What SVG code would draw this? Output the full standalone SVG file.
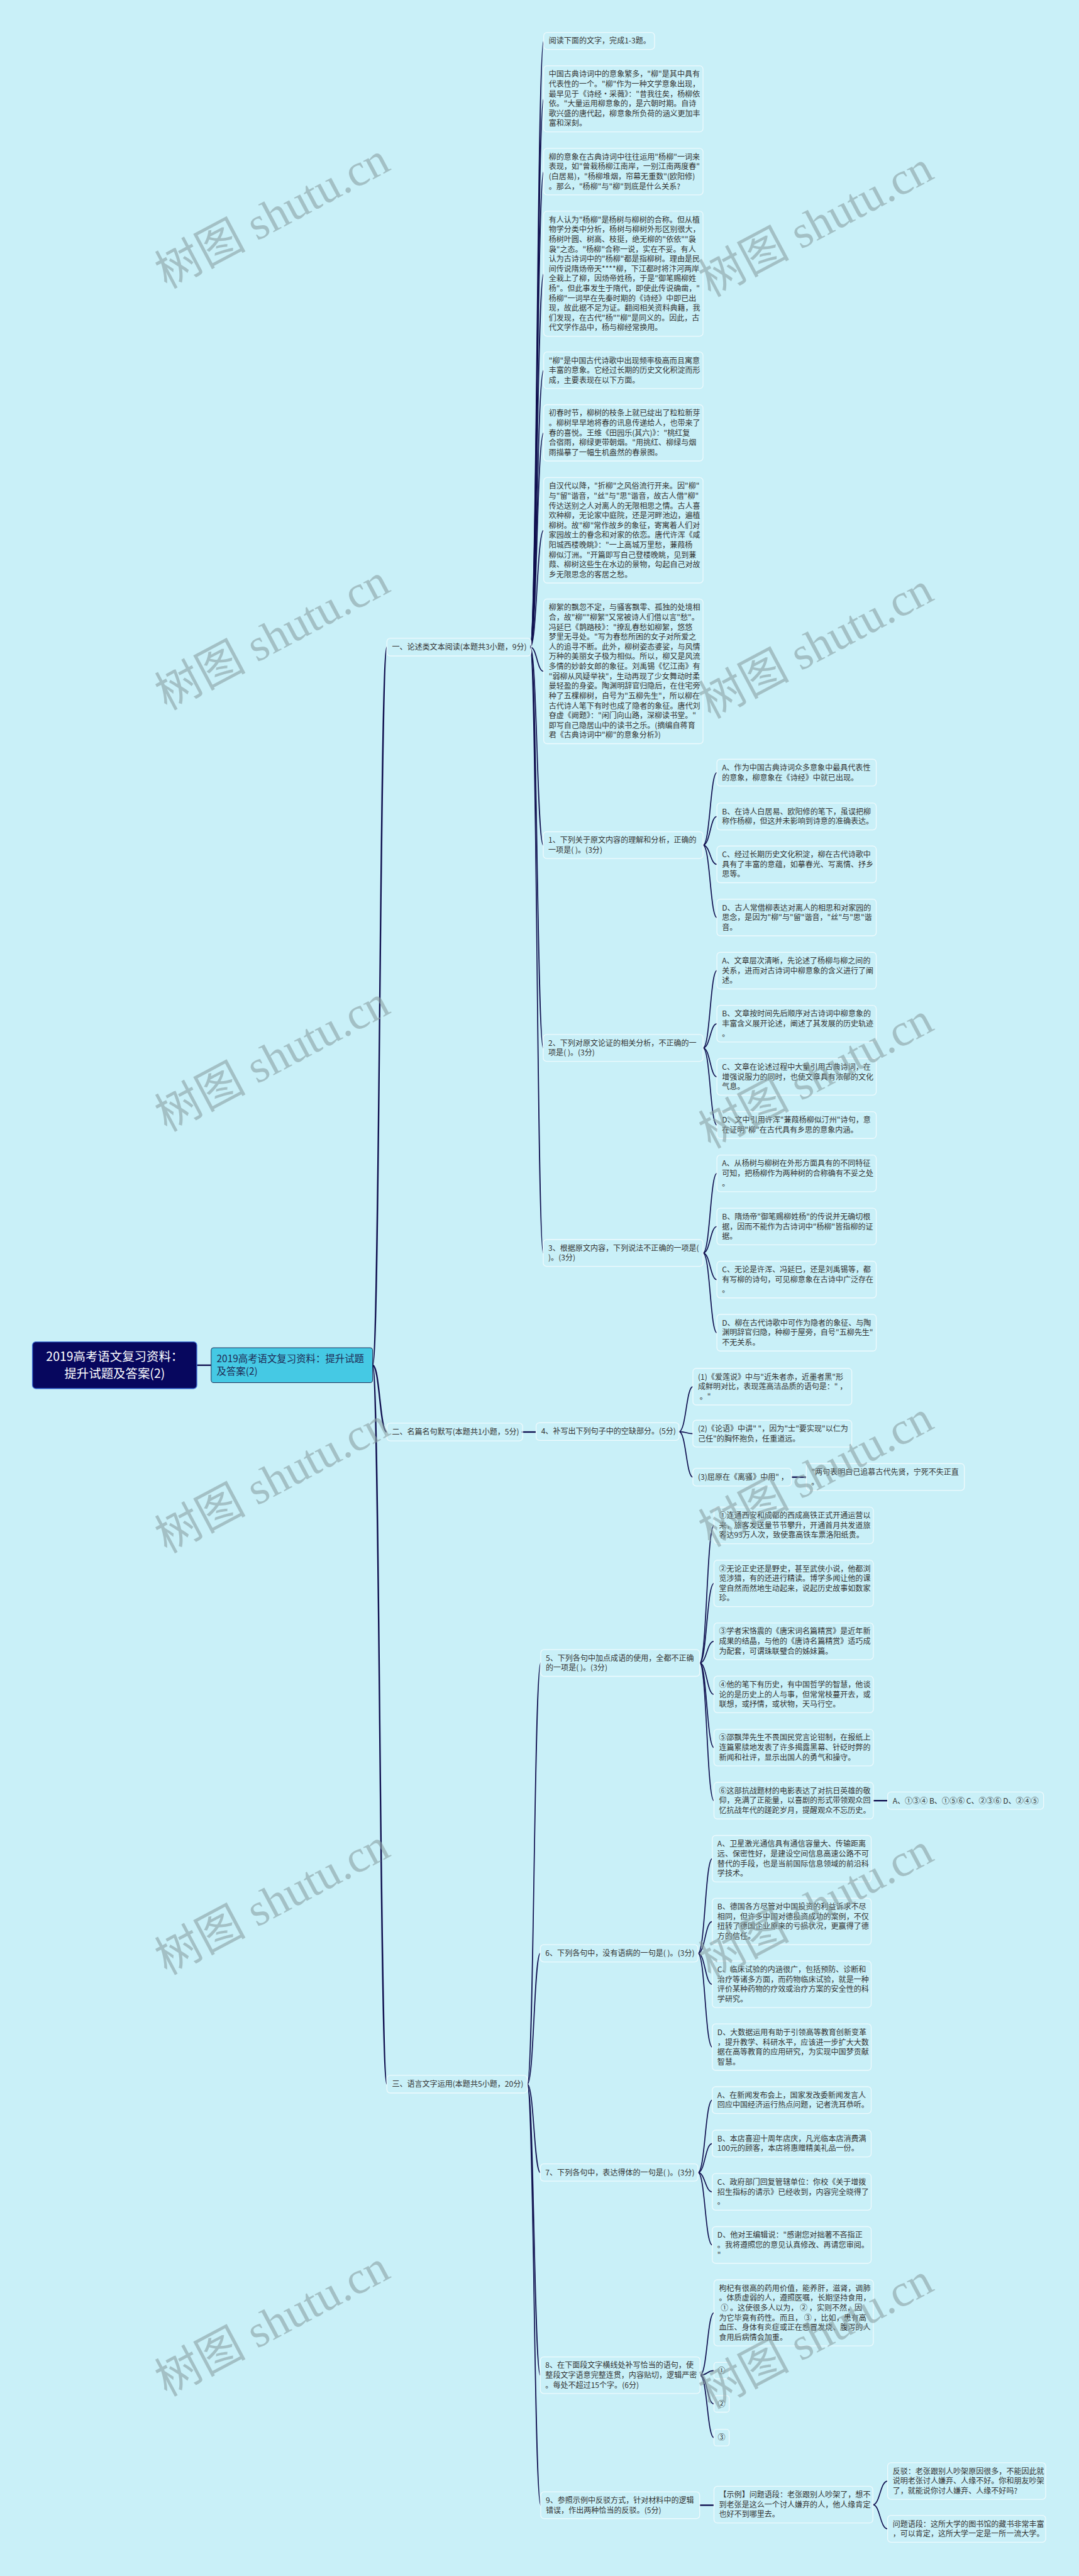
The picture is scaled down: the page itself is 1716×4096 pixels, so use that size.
<svg xmlns="http://www.w3.org/2000/svg" width="1716" height="4096" viewBox="0 0 1716 4096">
<style>
.b{fill:none;stroke:#eefafd;stroke-width:2}
.t{font-family:'Noto Sans CJK SC','Noto Sans',sans-serif;font-size:18px;fill:#333}
.c{fill:none;stroke:#0f0f4f;stroke-width:2.5}
.ct{fill:none;stroke:#0f0f4f;stroke-width:3.5}
.wm{font-family:'Liberation Serif','Noto Sans CJK SC',serif;font-size:108px;fill:#8aa0a4;fill-opacity:.6}
</style>
<rect width="1716" height="4096" fill="#c9f0f8"/>
<g transform="scale(0.6703)">
<g id="connectors">
<path class="ct" d="M467,3238.5H501"/>
<path class="ct" d="M884,3238.5C901,3238.5 901,1535 918,1535"/>
<path class="ct" d="M884,3238.5C901,3238.5 901,3397 918,3397"/>
<path class="ct" d="M884,3238.5C901,3238.5 901,4944 918,4944"/>
<path class="c" d="M1258,1535C1274,1535 1274,97.2 1290,97.2"/>
<path class="c" d="M1258,1535C1274,1535 1274,234.4 1290,234.4"/>
<path class="c" d="M1258,1535C1274,1535 1274,407.1 1290,407.1"/>
<path class="c" d="M1258,1535C1274,1535 1274,649.3 1290,649.3"/>
<path class="c" d="M1258,1535C1274,1535 1274,878.5 1290,878.5"/>
<path class="c" d="M1258,1535C1274,1535 1274,1026.8 1290,1026.8"/>
<path class="c" d="M1258,1535C1274,1535 1274,1258 1290,1258"/>
<path class="c" d="M1258,1535C1274,1535 1274,1592.6 1290,1592.6"/>
<path class="c" d="M1258,1535C1274,1535 1274,2004.8 1289,2004.8"/>
<path class="c" d="M1258,1535C1274,1535 1274,2485.8 1289,2485.8"/>
<path class="c" d="M1258,1535C1274,1535 1274,2972.3 1289,2972.3"/>
<path class="c" d="M1668,2004.8C1685,2004.8 1685,1832.8 1701,1832.8"/>
<path class="c" d="M1668,2004.8C1685,2004.8 1685,1936.8 1701,1936.8"/>
<path class="c" d="M1668,2004.8C1685,2004.8 1685,2050.5 1701,2050.5"/>
<path class="c" d="M1668,2004.8C1685,2004.8 1685,2176.5 1701,2176.5"/>
<path class="c" d="M1668,2485.8C1685,2485.8 1685,2302.5 1701,2302.5"/>
<path class="c" d="M1668,2485.8C1685,2485.8 1685,2428.5 1701,2428.5"/>
<path class="c" d="M1668,2485.8C1685,2485.8 1685,2554.5 1701,2554.5"/>
<path class="c" d="M1668,2485.8C1685,2485.8 1685,2668.8 1701,2668.8"/>
<path class="c" d="M1668,2972.3C1685,2972.3 1685,2783.5 1701,2783.5"/>
<path class="c" d="M1668,2972.3C1685,2972.3 1685,2909.5 1701,2909.5"/>
<path class="c" d="M1668,2972.3C1685,2972.3 1685,3035.5 1701,3035.5"/>
<path class="c" d="M1668,2972.3C1685,2972.3 1685,3161.5 1701,3161.5"/>
<path class="ct" d="M1238,3397H1272"/>
<path class="c" d="M1611,3396C1628,3396 1628,3289.5 1644,3289.5"/>
<path class="c" d="M1611,3396C1628,3396 1628,3400.8 1644,3400.8"/>
<path class="c" d="M1611,3396C1628,3396 1628,3504 1644,3504"/>
<path class="ct" d="M1878,3504H1913"/>
<path class="c" d="M1251,4944C1267,4944 1267,3944.8 1283,3944.8"/>
<path class="c" d="M1251,4944C1267,4944 1267,4633.5 1282,4633.5"/>
<path class="c" d="M1251,4944C1267,4944 1267,5153.5 1282,5153.5"/>
<path class="c" d="M1251,4944C1267,4944 1267,5634.5 1282,5634.5"/>
<path class="c" d="M1251,4944C1267,4944 1267,5942.8 1283,5942.8"/>
<path class="c" d="M1660,3944.8C1677,3944.8 1677,3618.5 1694,3618.5"/>
<path class="c" d="M1660,3944.8C1677,3944.8 1677,3756.1 1694,3756.1"/>
<path class="c" d="M1660,3944.8C1677,3944.8 1677,3893.5 1694,3893.5"/>
<path class="c" d="M1660,3944.8C1677,3944.8 1677,4019.5 1694,4019.5"/>
<path class="c" d="M1660,3944.8C1677,3944.8 1677,4145.5 1694,4145.5"/>
<path class="c" d="M1660,3944.8C1677,3944.8 1677,4271.5 1694,4271.5"/>
<path class="ct" d="M2072,4271.5H2106"/>
<path class="c" d="M1656,4633.5C1673,4633.5 1673,4409.1 1690,4409.1"/>
<path class="c" d="M1656,4633.5C1673,4633.5 1673,4558.1 1690,4558.1"/>
<path class="c" d="M1656,4633.5C1673,4633.5 1673,4707.1 1690,4707.1"/>
<path class="c" d="M1656,4633.5C1673,4633.5 1673,4856.1 1690,4856.1"/>
<path class="c" d="M1656,5153.5C1673,5153.5 1673,4981.8 1690,4981.8"/>
<path class="c" d="M1656,5153.5C1673,5153.5 1673,5084.8 1690,5084.8"/>
<path class="c" d="M1656,5153.5C1673,5153.5 1673,5199.5 1690,5199.5"/>
<path class="c" d="M1656,5153.5C1673,5153.5 1673,5325.5 1690,5325.5"/>
<path class="c" d="M1661,5634.5C1678,5634.5 1678,5486.4 1694,5486.4"/>
<path class="c" d="M1661,5634.5C1678,5634.5 1678,5623.5 1694,5623.5"/>
<path class="c" d="M1661,5634.5C1678,5634.5 1678,5702.5 1694,5702.5"/>
<path class="c" d="M1661,5634.5C1678,5634.5 1678,5782.5 1694,5782.5"/>
<path class="ct" d="M1660,5942.8H1694"/>
<path class="c" d="M2071,5941.5C2088,5941.5 2088,5885.5 2106,5885.5"/>
<path class="c" d="M2071,5941.5C2088,5941.5 2088,5998.8 2106,5998.8"/>
</g>

<g id="root"><rect x="77" y="3183" width="390" height="111" rx="8" fill="#07075e" stroke="#3d6fd6" stroke-width="2"/><text x="272" y="3228" text-anchor="middle" style="font-family:'Noto Sans CJK SC',sans-serif;font-size:29px;fill:#fff"><tspan x="272">2019高考语文复习资料：</tspan><tspan x="272" dy="40.7">提升试题及答案(2)</tspan></text></g>
<g id="n2"><rect x="501" y="3197" width="383" height="83" rx="6" fill="#45c9e4" stroke="#20305a" stroke-width="1.5"/><text x="514" y="3231.5" style="font-family:'Noto Sans CJK SC',sans-serif;font-size:23px;fill:#1f2b55"><tspan x="514">2019高考语文复习资料：提升试题</tspan><tspan x="514" dy="29.5">及答案(2)</tspan></text></g>

<g id="s1"><rect class="b" x="918" y="1514" width="342" height="42" rx="8"/><text class="t" x="930" y="1541.5">一、论述类文本阅读(本题共3小题，9分)</text></g>
<g id="s2"><rect class="b" x="918" y="3376" width="322" height="42" rx="8"/><text class="t" x="930" y="3403.5">二、名篇名句默写(本题共1小题，5分)</text></g>
<g id="s3"><rect class="b" x="918" y="4923" width="333" height="42" rx="8"/><text class="t" x="930" y="4950.5">三、语言文字运用(本题共5小题，20分)</text></g>

<g id="p1"><rect class="b" x="1290" y="77" width="263" height="40.3" rx="8"/><text class="t" x="1302" y="103.6">阅读下面的文字，完成1-3题。</text></g>
<g id="p2"><rect class="b" x="1290" y="156" width="378" height="156.8" rx="8"/><text class="t" x="1302" y="182.6"><tspan x="1302">中国古典诗词中的意象繁多，"柳"是其中具有</tspan><tspan x="1302" dy="23.3">代表性的一个。"柳"作为一种文学意象出现，</tspan><tspan x="1302" dy="23.3">最早见于《诗经·采薇》："昔我往矣，杨柳依</tspan><tspan x="1302" dy="23.3">依。"大量运用柳意象的，是六朝时期。自诗</tspan><tspan x="1302" dy="23.3">歌兴盛的唐代起，柳意象所负荷的涵义更加丰</tspan><tspan x="1302" dy="23.3">富和深刻。</tspan></text></g>
<g id="p3"><rect class="b" x="1290" y="352" width="378" height="110.2" rx="8"/><text class="t" x="1302" y="378.6"><tspan x="1302">柳的意象在古典诗词中往往运用"杨柳"一词来</tspan><tspan x="1302" dy="23.3">表现，如"曾栽杨柳江南岸，一别江南两度春"</tspan><tspan x="1302" dy="23.3">(白居易)，"杨柳堆烟，帘幕无重数"(欧阳修)</tspan><tspan x="1302" dy="23.3">。那么，"杨柳"与"柳"到底是什么关系?</tspan></text></g>
<g id="p4"><rect class="b" x="1290" y="501" width="378" height="296.6" rx="8"/><text class="t" x="1302" y="527.6"><tspan x="1302">有人认为"杨柳"是杨树与柳树的合称。但从植</tspan><tspan x="1302" dy="23.3">物学分类中分析，杨树与柳树外形区别很大，</tspan><tspan x="1302" dy="23.3">杨树叶圆、树高、枝挺，绝无柳的"依依""袅</tspan><tspan x="1302" dy="23.3">袅"之态。"杨柳"合称一说，实在不妥。有人</tspan><tspan x="1302" dy="23.3">认为古诗词中的"杨柳"都是指柳树。理由是民</tspan><tspan x="1302" dy="23.3">间传说隋炀帝天****柳，下江都时将汴河两岸</tspan><tspan x="1302" dy="23.3">全栽上了柳，因炀帝姓杨，于是"御笔赐柳姓</tspan><tspan x="1302" dy="23.3">杨"。但此事发生于隋代，即使此传说确凿，"</tspan><tspan x="1302" dy="23.3">杨柳"一词早在先秦时期的《诗经》中即已出</tspan><tspan x="1302" dy="23.3">现，故此据不足为证。翻阅相关资料典籍，我</tspan><tspan x="1302" dy="23.3">们发现，在古代"杨""柳"是同义的。因此，古</tspan><tspan x="1302" dy="23.3">代文学作品中，杨与柳经常换用。</tspan></text></g>
<g id="p5"><rect class="b" x="1290" y="835" width="378" height="86.9" rx="8"/><text class="t" x="1302" y="861.6"><tspan x="1302">"柳"是中国古代诗歌中出现频率极高而且寓意</tspan><tspan x="1302" dy="23.3">丰富的意象。它经过长期的历史文化积淀而形</tspan><tspan x="1302" dy="23.3">成，主要表现在以下方面。</tspan></text></g>
<g id="p6"><rect class="b" x="1290" y="960" width="378" height="133.5" rx="8"/><text class="t" x="1302" y="986.6"><tspan x="1302">初春时节，柳树的枝条上就已绽出了粒粒新芽</tspan><tspan x="1302" dy="23.3">。柳树早早地将春的讯息传递给人，也带来了</tspan><tspan x="1302" dy="23.3">春的喜悦。王维《田园乐(其六)》："桃红复</tspan><tspan x="1302" dy="23.3">合宿雨，柳绿更带朝烟。"用挑红、柳绿与烟</tspan><tspan x="1302" dy="23.3">雨描摹了一幅生机盎然的春景图。</tspan></text></g>
<g id="p7"><rect class="b" x="1290" y="1133" width="378" height="250" rx="8"/><text class="t" x="1302" y="1159.6"><tspan x="1302">自汉代以降，"折柳"之风俗流行开来。因"柳"</tspan><tspan x="1302" dy="23.3">与"留"谐音，"丝"与"思"谐音，故古人借"柳"</tspan><tspan x="1302" dy="23.3">传达送别之人对离人的无限相思之情。古人喜</tspan><tspan x="1302" dy="23.3">欢种柳，无论家中庭院，还是河畔池边，遍植</tspan><tspan x="1302" dy="23.3">柳树。故"柳"常作故乡的象征，寄寓着人们对</tspan><tspan x="1302" dy="23.3">家园故土的眷念和对家的依恋。唐代许浑《咸</tspan><tspan x="1302" dy="23.3">阳城西楼晚眺》："一上高城万里愁，蒹葭杨</tspan><tspan x="1302" dy="23.3">柳似汀洲。"开篇即写自己登楼晚眺，见到蒹</tspan><tspan x="1302" dy="23.3">葭、柳树这些生在水边的景物，勾起自己对故</tspan><tspan x="1302" dy="23.3">乡无限思念的客居之愁。</tspan></text></g>
<g id="p8"><rect class="b" x="1290" y="1421" width="378" height="343.2" rx="8"/><text class="t" x="1302" y="1447.6"><tspan x="1302">柳絮的飘忽不定，与骚客飘零、孤独的处境相</tspan><tspan x="1302" dy="23.3">合，故"柳""柳絮"又常被诗人们借以言"愁"。</tspan><tspan x="1302" dy="23.3">冯延巳《鹊踏枝》："撩乱春愁如柳絮，悠悠</tspan><tspan x="1302" dy="23.3">梦里无寻处。"写为春愁所困的女子对所爱之</tspan><tspan x="1302" dy="23.3">人的追寻不断。此外，柳树姿态婆娑，与风情</tspan><tspan x="1302" dy="23.3">万种的美丽女子极为相似。所以，柳又是风流</tspan><tspan x="1302" dy="23.3">多情的妙龄女郎的象征。刘禹锡《忆江南》有</tspan><tspan x="1302" dy="23.3">"弱柳从风疑举袂"，生动再现了少女舞动时柔</tspan><tspan x="1302" dy="23.3">曼轻盈的身姿。陶渊明辞官归隐后，在住宅旁</tspan><tspan x="1302" dy="23.3">种了五棵柳树，自号为"五柳先生"，所以柳在</tspan><tspan x="1302" dy="23.3">古代诗人笔下有时也成了隐者的象征。唐代刘</tspan><tspan x="1302" dy="23.3">昚虚《阙题》："闲门向山路，深柳读书堂。"</tspan><tspan x="1302" dy="23.3">即写自己隐居山中的读书之乐。(摘编自蒋育</tspan><tspan x="1302" dy="23.3">君《古典诗词中"柳"的意象分析》)</tspan></text></g>

<g id="q1"><rect class="b" x="1289" y="1973" width="379" height="63.6" rx="8"/><text class="t" x="1301" y="1999.6"><tspan x="1301">1、下列关于原文内容的理解和分析，正确的</tspan><tspan x="1301" dy="23.3">一项是( )。(3分)</tspan></text></g>
<g id="q1a"><rect class="b" x="1701" y="1801" width="378" height="63.6" rx="8"/><text class="t" x="1713" y="1827.6"><tspan x="1713">A、作为中国古典诗词众多意象中最具代表性</tspan><tspan x="1713" dy="23.3">的意象，柳意象在《诗经》中就已出现。</tspan></text></g>
<g id="q1b"><rect class="b" x="1701" y="1905" width="378" height="63.6" rx="8"/><text class="t" x="1713" y="1931.6"><tspan x="1713">B、在诗人白居易、欧阳修的笔下，虽误把柳</tspan><tspan x="1713" dy="23.3">称作杨柳，但这并未影响到诗意的准确表达。</tspan></text></g>
<g id="q1c"><rect class="b" x="1701" y="2007" width="378" height="86.9" rx="8"/><text class="t" x="1713" y="2033.6"><tspan x="1713">C、经过长期历史文化积淀，柳在古代诗歌中</tspan><tspan x="1713" dy="23.3">具有了丰富的意蕴，如摹春光、写离情、抒乡</tspan><tspan x="1713" dy="23.3">思等。</tspan></text></g>
<g id="q1d"><rect class="b" x="1701" y="2133" width="378" height="86.9" rx="8"/><text class="t" x="1713" y="2159.6"><tspan x="1713">D、古人常借柳表达对离人的相思和对家园的</tspan><tspan x="1713" dy="23.3">思念，是因为"柳"与"留"谐音，"丝"与"思"谐</tspan><tspan x="1713" dy="23.3">音。</tspan></text></g>

<g id="q2"><rect class="b" x="1289" y="2454" width="379" height="63.6" rx="8"/><text class="t" x="1301" y="2480.6"><tspan x="1301">2、下列对原文论证的相关分析，不正确的一</tspan><tspan x="1301" dy="23.3">项是( )。(3分)</tspan></text></g>
<g id="q2a"><rect class="b" x="1701" y="2259" width="378" height="86.9" rx="8"/><text class="t" x="1713" y="2285.6"><tspan x="1713">A、文章层次清晰，先论述了杨柳与柳之间的</tspan><tspan x="1713" dy="23.3">关系，进而对古诗词中柳意象的含义进行了阐</tspan><tspan x="1713" dy="23.3">述。</tspan></text></g>
<g id="q2b"><rect class="b" x="1701" y="2385" width="378" height="86.9" rx="8"/><text class="t" x="1713" y="2411.6"><tspan x="1713">B、文章按时间先后顺序对古诗词中柳意象的</tspan><tspan x="1713" dy="23.3">丰富含义展开论述，阐述了其发展的历史轨迹</tspan><tspan x="1713" dy="23.3">。</tspan></text></g>
<g id="q2c"><rect class="b" x="1701" y="2511" width="378" height="86.9" rx="8"/><text class="t" x="1713" y="2537.6"><tspan x="1713">C、文章在论述过程中大量引用古典诗词，在</tspan><tspan x="1713" dy="23.3">增强说服力的同时，也使文章具有浓郁的文化</tspan><tspan x="1713" dy="23.3">气息。</tspan></text></g>
<g id="q2d"><rect class="b" x="1701" y="2637" width="378" height="63.6" rx="8"/><text class="t" x="1713" y="2663.6"><tspan x="1713">D、文中引用许浑"蒹葭杨柳似汀州"诗句，意</tspan><tspan x="1713" dy="23.3">在证明"柳"在古代具有乡思的意象内涵。</tspan></text></g>

<g id="q3"><rect class="b" x="1289" y="2940.5" width="379" height="63.6" rx="8"/><text class="t" x="1301" y="2967.1"><tspan x="1301">3、根据原文内容，下列说法不正确的一项是(</tspan><tspan x="1301" dy="23.3">)。(3分)</tspan></text></g>
<g id="q3a"><rect class="b" x="1701" y="2740" width="378" height="86.9" rx="8"/><text class="t" x="1713" y="2766.6"><tspan x="1713">A、从杨树与柳树在外形方面具有的不同特征</tspan><tspan x="1713" dy="23.3">可知，把杨柳作为两种树的合称确有不妥之处</tspan><tspan x="1713" dy="23.3">。</tspan></text></g>
<g id="q3b"><rect class="b" x="1701" y="2866" width="378" height="86.9" rx="8"/><text class="t" x="1713" y="2892.6"><tspan x="1713">B、隋炀帝"御笔赐柳姓杨"的传说并无确切根</tspan><tspan x="1713" dy="23.3">据，因而不能作为古诗词中"杨柳"皆指柳的证</tspan><tspan x="1713" dy="23.3">据。</tspan></text></g>
<g id="q3c"><rect class="b" x="1701" y="2992" width="378" height="86.9" rx="8"/><text class="t" x="1713" y="3018.6"><tspan x="1713">C、无论是许浑、冯延巳，还是刘禹锡等，都</tspan><tspan x="1713" dy="23.3">有写柳的诗句，可见柳意象在古诗中广泛存在</tspan><tspan x="1713" dy="23.3">。</tspan></text></g>
<g id="q3d"><rect class="b" x="1701" y="3118" width="378" height="86.9" rx="8"/><text class="t" x="1713" y="3144.6"><tspan x="1713">D、柳在古代诗歌中可作为隐者的象征、与陶</tspan><tspan x="1713" dy="23.3">渊明辞官归隐，种柳于屋旁，自号"五柳先生"</tspan><tspan x="1713" dy="23.3">不无关系。</tspan></text></g>

<g id="q4"><rect class="b" x="1272" y="3375" width="339" height="42" rx="8"/><text class="t" x="1284" y="3402">4、补写出下列句子中的空缺部分。(5分)</text></g>
<g id="q4a"><rect class="b" x="1644" y="3246" width="377" height="86.9" rx="8"/><text class="t" x="1656" y="3272.6"><tspan x="1656">(1)《爱莲说》中与"近朱者赤，近墨者黑"形</tspan><tspan x="1656" dy="23.3">成鲜明对比，表现莲高洁品质的语句是：" ，</tspan><tspan x="1656" dy="23.3">&#160;。"</tspan></text></g>
<g id="q4b"><rect class="b" x="1644" y="3369" width="377" height="63.6" rx="8"/><text class="t" x="1656" y="3395.6"><tspan x="1656">(2)《论语》中讲" "，因为"士"要实现"以仁为</tspan><tspan x="1656" dy="23.3">己任"的胸怀抱负，任重道远。</tspan></text></g>
<g id="q4c"><rect class="b" x="1644" y="3483" width="234" height="42" rx="8"/><text class="t" x="1656" y="3510">(3)屈原在《离骚》中用" ，</text></g>
<g id="q4c1"><rect class="b" x="1913" y="3472" width="375" height="63.6" rx="8"/><text class="t" x="1925" y="3498.6"><tspan x="1925">"两句表明自己追慕古代先贤，宁死不失正直</tspan><tspan x="1925" dy="23.3">。</tspan></text></g>

<g id="q5"><rect class="b" x="1283" y="3913" width="377" height="63.6" rx="8"/><text class="t" x="1295" y="3939.6"><tspan x="1295">5、下列各句中加点成语的使用，全都不正确</tspan><tspan x="1295" dy="23.3">的一项是( )。(3分)</tspan></text></g>
<g id="q5-1"><rect class="b" x="1694" y="3575" width="378" height="86.9" rx="8"/><text class="t" x="1706" y="3601.6"><tspan x="1706">①连通西安和成都的西成高铁正式开通运营以</tspan><tspan x="1706" dy="23.3">来，旅客发送量节节攀升，开通首月共发道旅</tspan><tspan x="1706" dy="23.3">客达93万人次，致使靠高铁车票洛阳纸贵。</tspan></text></g>
<g id="q5-2"><rect class="b" x="1694" y="3701" width="378" height="110.2" rx="8"/><text class="t" x="1706" y="3727.6"><tspan x="1706">②无论正史还是野史，甚至武侠小说，他都浏</tspan><tspan x="1706" dy="23.3">览涉猎，有的还进行精读。博学多闻让他的课</tspan><tspan x="1706" dy="23.3">堂自然而然地生动起来，说起历史故事如数家</tspan><tspan x="1706" dy="23.3">珍。</tspan></text></g>
<g id="q5-3"><rect class="b" x="1694" y="3850" width="378" height="86.9" rx="8"/><text class="t" x="1706" y="3876.6"><tspan x="1706">③学者宋恪震的《唐宋词名篇精赏》是近年新</tspan><tspan x="1706" dy="23.3">成果的结晶，与他的《唐诗名篇精赏》适巧成</tspan><tspan x="1706" dy="23.3">为配套，可谓珠联璧合的姊妹篇。</tspan></text></g>
<g id="q5-4"><rect class="b" x="1694" y="3976" width="378" height="86.9" rx="8"/><text class="t" x="1706" y="4002.6"><tspan x="1706">④他的笔下有历史，有中国哲学的智慧，他谈</tspan><tspan x="1706" dy="23.3">论的是历史上的人与事，但常常枝蔓开去，或</tspan><tspan x="1706" dy="23.3">联想，或抒情，或状物，天马行空。</tspan></text></g>
<g id="q5-5"><rect class="b" x="1694" y="4102" width="378" height="86.9" rx="8"/><text class="t" x="1706" y="4128.6"><tspan x="1706">⑤邵飘萍先生不畏国民党言论钳制，在报纸上</tspan><tspan x="1706" dy="23.3">连篇累牍地发表了许多揭露黑幕、针砭时弊的</tspan><tspan x="1706" dy="23.3">新闻和社评，显示出国人的勇气和操守。</tspan></text></g>
<g id="q5-6"><rect class="b" x="1694" y="4228" width="378" height="86.9" rx="8"/><text class="t" x="1706" y="4254.6"><tspan x="1706">⑥这部抗战题材的电影表达了对抗日英雄的敬</tspan><tspan x="1706" dy="23.3">仰，充满了正能量，以喜剧的形式带领观众回</tspan><tspan x="1706" dy="23.3">忆抗战年代的蹉跎岁月，提醒观众不忘历史。</tspan></text></g>
<g id="q5-ans"><rect class="b" x="2106" y="4251" width="370" height="41" rx="8"/><text class="t" x="2118" y="4278">A、①③④ B、①⑤⑥ C、②③⑥ D、②④⑤</text></g>

<g id="q6"><rect class="b" x="1282" y="4613" width="374" height="41" rx="8"/><text class="t" x="1294" y="4640">6、下列各句中，没有语病的一句是( )。(3分)</text></g>
<g id="q6a"><rect class="b" x="1690" y="4354" width="377" height="110.2" rx="8"/><text class="t" x="1702" y="4380.6"><tspan x="1702">A、卫星激光通信具有通信容量大、传输距离</tspan><tspan x="1702" dy="23.3">远、保密性好，是建设空间信息高速公路不可</tspan><tspan x="1702" dy="23.3">替代的手段，也是当前国际信息领域的前沿科</tspan><tspan x="1702" dy="23.3">学技术。</tspan></text></g>
<g id="q6b"><rect class="b" x="1690" y="4503" width="377" height="110.2" rx="8"/><text class="t" x="1702" y="4529.6"><tspan x="1702">B、德国各方尽管对中国投资的利益诉求不尽</tspan><tspan x="1702" dy="23.3">相同，但许多中国对德投资成功的案例，不仅</tspan><tspan x="1702" dy="23.3">扭转了德国企业原来的亏损状况，更赢得了德</tspan><tspan x="1702" dy="23.3">方的信任。</tspan></text></g>
<g id="q6c"><rect class="b" x="1690" y="4652" width="377" height="110.2" rx="8"/><text class="t" x="1702" y="4678.6"><tspan x="1702">C、临床试验的内涵很广，包括预防、诊断和</tspan><tspan x="1702" dy="23.3">治疗等诸多方面，而药物临床试验，就是一种</tspan><tspan x="1702" dy="23.3">评价某种药物的疗效或治疗方案的安全性的科</tspan><tspan x="1702" dy="23.3">学研究。</tspan></text></g>
<g id="q6d"><rect class="b" x="1690" y="4801" width="377" height="110.2" rx="8"/><text class="t" x="1702" y="4827.6"><tspan x="1702">D、大数据运用有助于引领高等教育创新变革</tspan><tspan x="1702" dy="23.3">，提升教学、科研水平，应该进一步扩大大数</tspan><tspan x="1702" dy="23.3">据在高等教育的应用研究，为实现中国梦贡献</tspan><tspan x="1702" dy="23.3">智慧。</tspan></text></g>

<g id="q7"><rect class="b" x="1282" y="5133" width="374" height="41" rx="8"/><text class="t" x="1294" y="5160">7、下列各句中，表达得体的一句是( )。(3分)</text></g>
<g id="q7a"><rect class="b" x="1690" y="4950" width="377" height="63.6" rx="8"/><text class="t" x="1702" y="4976.6"><tspan x="1702">A、在新闻发布会上，国家发改委新闻发言人</tspan><tspan x="1702" dy="23.3">回应中国经济运行热点问题，记者洗耳恭听。</tspan></text></g>
<g id="q7b"><rect class="b" x="1690" y="5053" width="377" height="63.6" rx="8"/><text class="t" x="1702" y="5079.6"><tspan x="1702">B、本店喜迎十周年店庆，凡光临本店消费满</tspan><tspan x="1702" dy="23.3">100元的顾客，本店将惠赠精美礼品一份。</tspan></text></g>
<g id="q7c"><rect class="b" x="1690" y="5156" width="377" height="86.9" rx="8"/><text class="t" x="1702" y="5182.6"><tspan x="1702">C、政府部门回复管辖单位：你校《关于增拨</tspan><tspan x="1702" dy="23.3">招生指标的请示》已经收到，内容完全晓得了</tspan><tspan x="1702" dy="23.3">。</tspan></text></g>
<g id="q7d"><rect class="b" x="1690" y="5282" width="377" height="86.9" rx="8"/><text class="t" x="1702" y="5308.6"><tspan x="1702">D、他对王编辑说："感谢您对拙著不吝指正</tspan><tspan x="1702" dy="23.3">。我将遵照您的意见认真修改、再请您审阅。</tspan><tspan x="1702" dy="23.3">"</tspan></text></g>

<g id="q8"><rect class="b" x="1282" y="5591" width="379" height="86.9" rx="8"/><text class="t" x="1294" y="5617.6"><tspan x="1294">8、在下面段文字横线处补写恰当的语句，使</tspan><tspan x="1294" dy="23.3">整段文字语意完整连贯，内容贴切，逻辑严密</tspan><tspan x="1294" dy="23.3">。每处不超过15个字。(6分)</tspan></text></g>
<g id="q8t"><rect class="b" x="1694" y="5408" width="378" height="156.8" rx="8"/><text class="t" x="1706" y="5434.6"><tspan x="1706">枸杞有很高的药用价值，能养肝，滋肾，调肺</tspan><tspan x="1706" dy="23.3">。体质虚弱的人，遵照医嘱，长期坚持食用，</tspan><tspan x="1706" dy="23.3">&#160;①&#160;。这使很多人以为，&#160;②&#160;，实则不然，因</tspan><tspan x="1706" dy="23.3">为它毕竟有药性。而且，&#160;③&#160;，比如，患有高</tspan><tspan x="1706" dy="23.3">血压、身体有炎症或正在感冒发烧、腹泻的人</tspan><tspan x="1706" dy="23.3">食用后病情会加重。</tspan></text></g>
<g id="q8-1"><rect class="b" x="1694" y="5604" width="36" height="39" rx="6"/><text class="t" x="1703" y="5630">①</text></g>
<g id="q8-2"><rect class="b" x="1694" y="5683" width="36" height="39" rx="6"/><text class="t" x="1703" y="5709">②</text></g>
<g id="q8-3"><rect class="b" x="1694" y="5763" width="36" height="39" rx="6"/><text class="t" x="1703" y="5789">③</text></g>

<g id="q9"><rect class="b" x="1283" y="5911" width="377" height="63.6" rx="8"/><text class="t" x="1295" y="5937.6"><tspan x="1295">9、参照示例中反驳方式，针对材料中的逻辑</tspan><tspan x="1295" dy="23.3">错误，作出两种恰当的反驳。(5分)</tspan></text></g>
<g id="q9e"><rect class="b" x="1694" y="5898" width="377" height="86.9" rx="8"/><text class="t" x="1706" y="5924.6"><tspan x="1706">【示例】问题语段：老张跟别人吵架了，想不</tspan><tspan x="1706" dy="23.3">到老张是这么一个讨人嫌弃的人，他人缘肯定</tspan><tspan x="1706" dy="23.3">也好不到哪里去。</tspan></text></g>
<g id="q9r1"><rect class="b" x="2106" y="5842" width="375" height="86.9" rx="8"/><text class="t" x="2118" y="5868.6"><tspan x="2118">反驳：老张跟别人吵架原因很多，不能因此就</tspan><tspan x="2118" dy="23.3">说明老张讨人嫌弃、人缘不好。你和朋友吵架</tspan><tspan x="2118" dy="23.3">了，就能说你讨人嫌弃、人缘不好吗?</tspan></text></g>
<g id="q9r2"><rect class="b" x="2106" y="5967" width="375" height="63.6" rx="8"/><text class="t" x="2118" y="5993.6"><tspan x="2118">问题语段：这所大学的图书馆的藏书非常丰富</tspan><tspan x="2118" dy="23.3">，可以肯定，这所大学一定是一所一流大学。</tspan></text></g>

<g id="watermarks" class="wm" text-anchor="middle">
<text transform="translate(645 510) rotate(-28)" y="38">树图 shutu.cn</text>
<text transform="translate(645 1510) rotate(-28)" y="38">树图 shutu.cn</text>
<text transform="translate(645 2510) rotate(-28)" y="38">树图 shutu.cn</text>
<text transform="translate(645 3510) rotate(-28)" y="38">树图 shutu.cn</text>
<text transform="translate(645 4510) rotate(-28)" y="38">树图 shutu.cn</text>
<text transform="translate(645 5510) rotate(-28)" y="38">树图 shutu.cn</text>
<text transform="translate(1935 530) rotate(-28)" y="38">树图 shutu.cn</text>
<text transform="translate(1935 1530) rotate(-28)" y="38">树图 shutu.cn</text>
<text transform="translate(1935 2550) rotate(-28)" y="38">树图 shutu.cn</text>
<text transform="translate(1935 3495) rotate(-28)" y="38">树图 shutu.cn</text>
<text transform="translate(1935 4520) rotate(-28)" y="38">树图 shutu.cn</text>
<text transform="translate(1935 5540) rotate(-28)" y="38">树图 shutu.cn</text>
</g>
</g>
</svg>
